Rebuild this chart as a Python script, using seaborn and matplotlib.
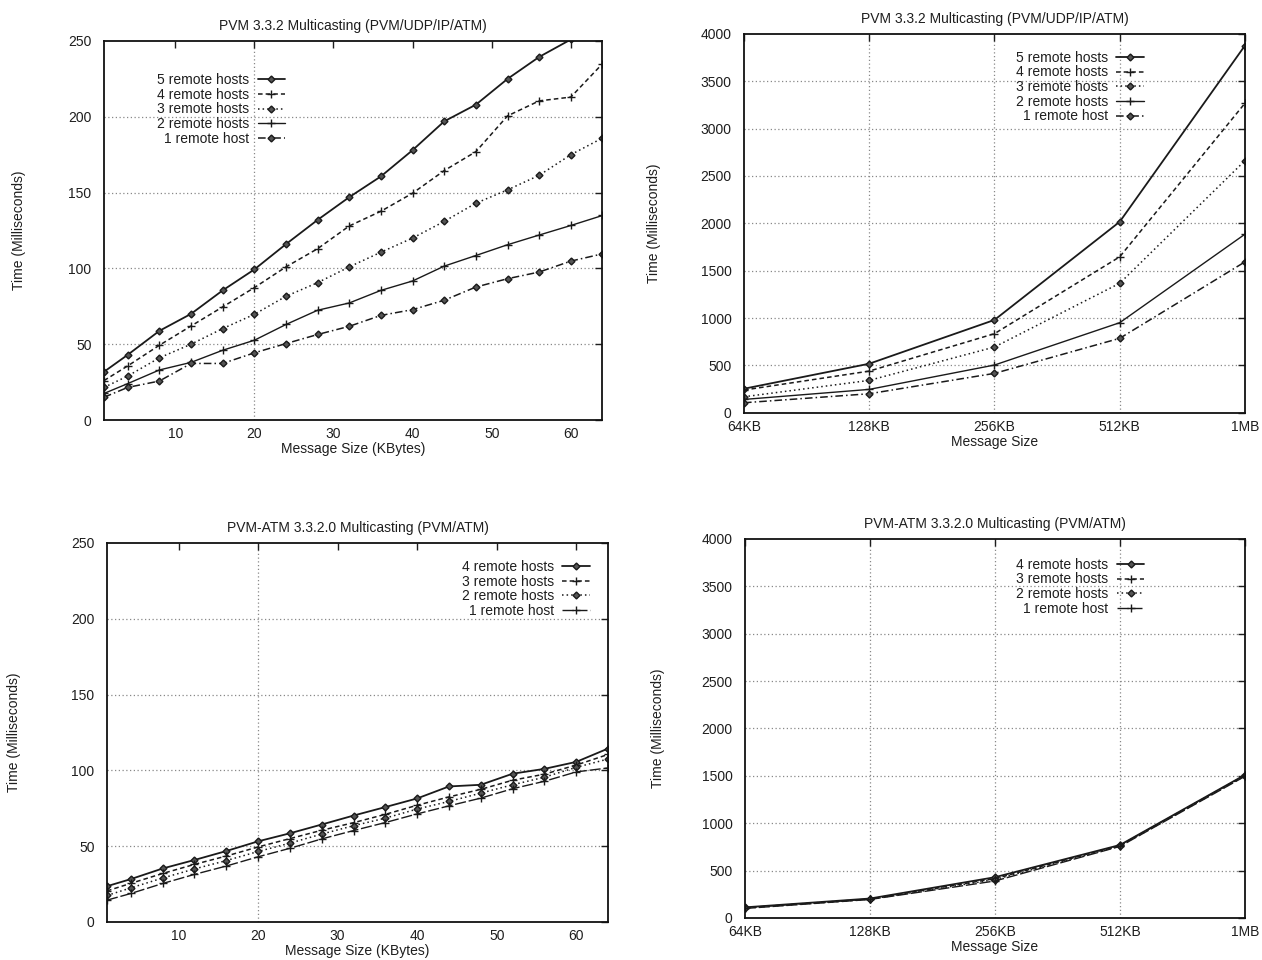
import numpy as np
import pandas as pd
import matplotlib
matplotlib.use("Agg")
import matplotlib.pyplot as plt
import seaborn as sns

# ---------------- data ----------------
kb_sizes = [1, 4, 8, 12, 16, 20, 24, 28, 32, 36, 40, 44, 48, 52, 56, 60, 64]

udp_small_5 = [31.8, 43, 58.8, 70, 85.5, 99.3, 116, 132, 147, 160.7, 178, 197, 208, 225, 239.5, 251, 262]
udp_small_4 = [26, 35.7, 49.3, 62, 74.6, 87.3, 101, 113, 128, 137.7, 149.6, 164.5, 177, 200.6, 210.5, 213, 235]
udp_small_3 = [21.5, 29, 41, 50, 60.3, 69.7, 81.6, 90.6, 101, 110.7, 120, 131, 143, 151.8, 161.4, 175, 186]
udp_small_2 = [17.5, 24, 33, 38, 46, 52.6, 63, 72.4, 77.2, 85.5, 91.7, 101.5, 108.5, 115.6, 122, 128.3, 134.9]
udp_small_1 = [15, 21.5, 25.7, 37.3, 37.3, 44.3, 50.4, 56.4, 61.8, 69, 72.8, 79, 87.7, 93.2, 97.6, 104.8, 109.6]

large_sizes_kb = [64, 128, 256, 512, 1024]
large_labels = ["64KB", "128KB", "256KB", "512KB", "1MB"]

udp_large_5 = [254, 518, 980, 2016, 3876]
udp_large_4 = [240, 440, 835, 1646, 3267]
udp_large_3 = [169, 342, 694, 1367, 2661]
udp_large_2 = [141, 247, 504, 951, 1885]
udp_large_1 = [106, 201, 416, 786, 1593]

atm_small_4 = [23.6, 28.3, 35.3, 40.9, 46.8, 53.2, 58.5, 64.3, 70.2, 75.8, 81.5, 89.4, 90.5, 97.8, 101, 105.6, 114.4]
atm_small_3 = [20.5, 25.5, 32, 38, 43.5, 49.5, 55, 60.5, 65.5, 71, 77, 82.5, 87.5, 93.5, 97.5, 103.5, 110.5]
atm_small_2 = [17.5, 22.5, 29, 35, 40.5, 46.5, 52, 58, 63.5, 68.5, 74.5, 79.5, 85, 90.5, 95.5, 102, 107.5]
atm_small_1 = [14.4, 18.8, 25.4, 31.4, 36.9, 43, 48.6, 54.8, 60.3, 65.6, 71.3, 76.6, 81.7, 87.9, 92.8, 99, 101.6]

atm_large_4 = [112, 205, 430, 770, 1510]
atm_large_3 = [108, 200, 415, 765, 1505]
atm_large_2 = [105, 198, 405, 760, 1500]
atm_large_1 = [100, 195, 390, 755, 1495]

labels5 = ["5 remote hosts", "4 remote hosts", "3 remote hosts", "2 remote hosts", "1 remote host"]
labels4 = ["4 remote hosts", "3 remote hosts", "2 remote hosts", "1 remote host"]

title_udp = "PVM 3.3.2 Multicasting (PVM/UDP/IP/ATM)"
title_atm = "PVM-ATM 3.3.2.0 Multicasting (PVM/ATM)"

# ---------------- style ----------------
sns.set_theme(style="white")
plt.rcParams['font.family'] = ['Liberation Sans', 'DejaVu Sans']
plt.rcParams['text.color'] = '#1e1e1e'
plt.rcParams['axes.labelcolor'] = '#1e1e1e'
plt.rcParams['xtick.color'] = '#1e1e1e'
plt.rcParams['ytick.color'] = '#1e1e1e'

FS = 10

styles5 = [
    dict(ls='-', marker='D', lw=1.3, ms=3.5),
    dict(ls=(0, (3, 2)), marker='+', lw=1.1, ms=6),
    dict(ls=(0, (1, 2)), marker='D', lw=1.1, ms=3.5),
    dict(ls='-', marker='+', lw=1.0, ms=6),
    dict(ls=(0, (5, 2, 1, 2)), marker='D', lw=1.1, ms=3.5),
]
styles4 = [
    dict(ls='-', marker='D', lw=1.3, ms=3.5),
    dict(ls=(0, (3, 2)), marker='+', lw=1.1, ms=6),
    dict(ls=(0, (1, 2)), marker='D', lw=1.1, ms=3.5),
    dict(ls=(0, (8, 2)), marker='+', lw=1.0, ms=6),
]

fig = plt.figure(figsize=(12.62, 9.6), dpi=100)
fig.patch.set_facecolor('white')

ax_tl = fig.add_axes([0.0824, 0.5625, 0.395, 0.3948])
ax_tr = fig.add_axes([0.5895, 0.570, 0.3970, 0.3948])
ax_bl = fig.add_axes([0.0848, 0.0396, 0.3970, 0.3948])
ax_br = fig.add_axes([0.5903, 0.0438, 0.3962, 0.3948])


def draw(ax, xs, series, labels, styles):
    for ys, lab, st in zip(series, labels, styles):
        df = pd.DataFrame({"x": xs, "y": ys})
        sns.lineplot(data=df, x="x", y="y", ax=ax, color="#1a1a1a",
                     linestyle=st['ls'], marker=st['marker'], lw=st['lw'],
                     markersize=st['ms'], markeredgecolor="#1a1a1a",
                     markerfacecolor="#555555", markeredgewidth=1.0,
                     label=lab, legend=False, errorbar=None)


def finish(ax, title, xlabel, ylim, yticks, legend_anchor, ylabelpad):
    ax.set_title(title, fontsize=FS, pad=8)
    ax.set_xlabel(xlabel, fontsize=FS, labelpad=1)
    ax.set_ylabel("Time (Milliseconds)", fontsize=FS, labelpad=ylabelpad)
    ax.set_ylim(*ylim)
    ax.set_yticks(yticks)
    ax.tick_params(direction='in', length=5, width=1, top=True, right=True,
                   labelsize=FS, pad=9)
    ax.tick_params(axis='x', pad=5)
    for sp in ax.spines.values():
        sp.set_visible(True)
        sp.set_color('#111111')
        sp.set_linewidth(1.3)
    ax.grid(False)
    for yv in yticks[1:-1]:
        ax.axhline(yv, color='#888888', ls=(0, (1, 2)), lw=0.9, zorder=0)
    h, l = ax.get_legend_handles_labels()
    ax.legend(h, l, loc='upper right', bbox_to_anchor=legend_anchor,
              markerfirst=False, frameon=False, fontsize=FS,
              handlelength=2.0, labelspacing=0.05, handletextpad=0.6,
              borderaxespad=0)


# Top-left
draw(ax_tl, kb_sizes, [udp_small_5, udp_small_4, udp_small_3, udp_small_2, udp_small_1], labels5, styles5)
ax_tl.set_xlim(1, 64)
ax_tl.set_xticks([10, 20, 30, 40, 50, 60])
ax_tl.axvline(20, color='#888888', ls=(0, (1, 2)), lw=0.9, zorder=0)
finish(ax_tl, title_udp, "Message Size (KBytes)", (0, 250), [0, 50, 100, 150, 200, 250], (0.375, 0.93), 30)

# Top-right
draw(ax_tr, large_sizes_kb, [udp_large_5, udp_large_4, udp_large_3, udp_large_2, udp_large_1], labels5, styles5)
ax_tr.set_xscale('log', base=2)
ax_tr.set_xlim(64, 1024)
ax_tr.set_xticks(large_sizes_kb)
ax_tr.set_xticklabels(large_labels)
ax_tr.minorticks_off()
for xv in large_sizes_kb[1:-1]:
    ax_tr.axvline(xv, color='#888888', ls=(0, (1, 2)), lw=0.9, zorder=0)
finish(ax_tr, title_udp, "Message Size", (0, 4000), list(range(0, 4001, 500)), (0.81, 0.97), 28)

# Bottom-left
draw(ax_bl, kb_sizes, [atm_small_4, atm_small_3, atm_small_2, atm_small_1], labels4, styles4)
ax_bl.set_xlim(1, 64)
ax_bl.set_xticks([10, 20, 30, 40, 50, 60])
ax_bl.axvline(20, color='#888888', ls=(0, (1, 2)), lw=0.9, zorder=0)
finish(ax_bl, title_atm, "Message Size (KBytes)", (0, 250), [0, 50, 100, 150, 200, 250], (0.975, 0.97), 36)

# Bottom-right
draw(ax_br, large_sizes_kb, [atm_large_4, atm_large_3, atm_large_2, atm_large_1], labels4, styles4)
ax_br.set_xscale('log', base=2)
ax_br.set_xlim(64, 1024)
ax_br.set_xticks(large_sizes_kb)
ax_br.set_xticklabels(large_labels)
ax_br.minorticks_off()
for xv in large_sizes_kb[1:-1]:
    ax_br.axvline(xv, color='#888888', ls=(0, (1, 2)), lw=0.9, zorder=0)
finish(ax_br, title_atm, "Message Size", (0, 4000), list(range(0, 4001, 500)), (0.81, 0.965), 26)

fig.savefig("out.png", dpi=100, facecolor='white')
